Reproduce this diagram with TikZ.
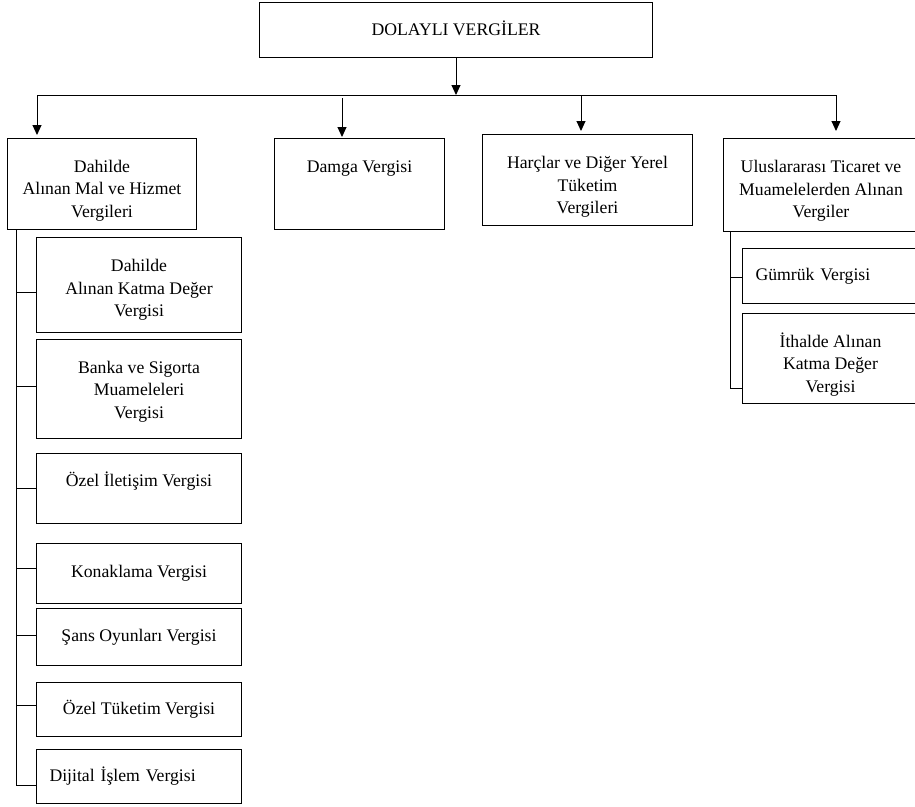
\documentclass[tikz,border=0pt]{standalone}
\usepackage{fontspec}
\setmainfont{Liberation Serif}
\usetikzlibrary{arrows.meta}
\begin{document}
\begin{tikzpicture}[x=1pt,y=-1pt,
	kutu/.style={draw, line width=1pt, anchor=north west, align=center, inner sep=4pt,
		font=\fontsize{17.7}{22.5}\selectfont},
	solkutu/.style={kutu, align=left, inner xsep=13pt},
	ok/.style={-{Triangle[length=10pt,width=9pt]}, line width=1pt},
	bag/.style={line width=1pt}]
	\useasboundingbox (0,0) rectangle (915,806);
	% ana kutu
	\node[kutu, minimum width=393, minimum height=55] (ana) at (259,2) {DOLAYLI VERGİLER\rule[-4pt]{0pt}{4pt}};
	% ikinci sira
	\node[kutu, minimum width=189, minimum height=91] (dahilde) at (7,138) {\rule{0pt}{25pt}Dahilde\\Alınan Mal ve Hizmet\\Vergileri};
	\node[kutu, minimum width=170, minimum height=91] (damga) at (274,138) {\rule{0pt}{22pt}Damga Vergisi\\~\\~};
	\node[kutu, minimum width=210, minimum height=91] (harclar) at (482,134) {\rule{0pt}{26pt}Harçlar ve Diğer Yerel\\Tüketim\\Vergileri};
	\node[kutu, minimum width=195, minimum height=93] (ulus) at (723,138) {\rule{0pt}{24pt}Uluslararası Ticaret ve\\Muamelelerden Alınan\\Vergiler};
	% oklar
	\coordinate (o1) at (37,95);
	\coordinate (o2) at (342,98);
	\coordinate (o3) at (581,95);
	\coordinate (o4) at (836,95);
	\draw[bag] (o1) -- (o4);
	\draw[ok] (ana.south) -- (ana.south |- o1);
	\foreach \k/\n/\s in {o1/dahilde/3, o2/damga/1, o3/harclar/3, o4/ulus/7}
		\draw[ok, shorten >=\s pt] (\k) -- (\k |- \n.north);
	% sol alt kutular
	\node[kutu, minimum width=205, minimum height=95] (kdv) at (36,237) {\rule{0pt}{22pt}Dahilde\\Alınan Katma Değer\\Vergisi};
	\node[kutu, minimum width=205, minimum height=99] (banka) at (36,339) {\rule{0pt}{17pt}Banka ve Sigorta\\Muameleleri\\Vergisi};
	\node[kutu, minimum width=205, minimum height=70] (iletisim) at (36,453) {Özel İletişim Vergisi\rule[-18pt]{0pt}{18pt}};
	\node[kutu, minimum width=205, minimum height=60] (konaklama) at (36,543) {Konaklama Vergisi};
	\node[kutu, minimum width=205, minimum height=57] (sans) at (36,608) {Şans Oyunları Vergisi};
	\node[kutu, minimum width=205, minimum height=54] (tuketim) at (36,682) {Özel Tüketim Vergisi};
	\node[solkutu, text width=179, minimum width=205, minimum height=54] (dijital) at (36,749) {Dijital İşlem Vergisi};
	\foreach \n/\d in {kdv/-7.5, banka/2.5, iletisim/0, konaklama/5, sans/1.5, tuketim/4, dijital/-9}
		\draw[bag] ([yshift=\d pt]\n.west) -- ++(-20,0) coordinate (\n-u);
	\draw[bag] ([xshift=9pt]dahilde.south west) -- (dijital-u);
	% sag alt kutular
	\node[solkutu, text width=150, minimum width=176, minimum height=55] (gumruk) at (742,248) {Gümrük Vergisi};
	\node[kutu, minimum width=176, minimum height=90] (ithalde) at (742,313) {\rule{0pt}{26pt}İthalde Alınan\\Katma Değer\\Vergisi};
	\foreach \n/\d in {gumruk/-1.5, ithalde/-30}
		\draw[bag] ([yshift=\d pt]\n.west) -- ++(-12,0) coordinate (\n-u);
	\draw[bag] ([xshift=7pt]ulus.south west) -- (ithalde-u);
\end{tikzpicture}
\end{document}
